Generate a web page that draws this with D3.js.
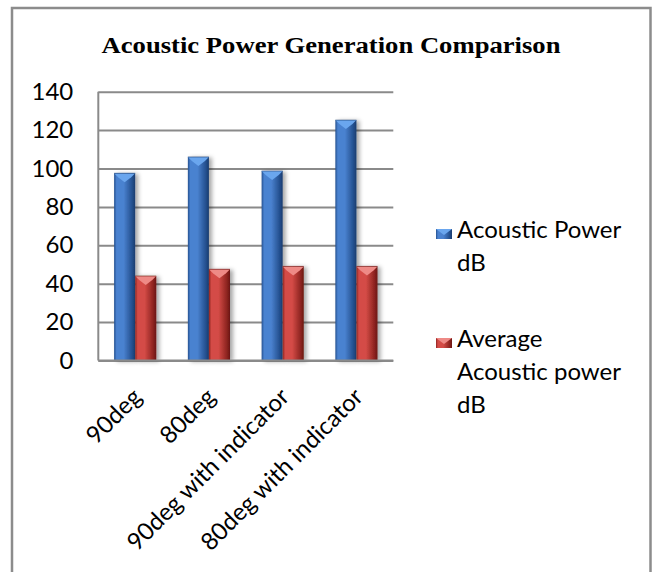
<!DOCTYPE html>
<html>
<head>
<meta charset="utf-8">
<script src="https://cdn.jsdelivr.net/npm/d3@7"></script>
<style>
  html, body { margin: 0; padding: 0; background: #fff; }
  svg { display: block; }
</style>
</head>
<body>
<svg id="chart" width="657" height="572"></svg>
<script>
// Chart data
const categories = ["90deg", "80deg", "90deg with indicator", "80deg with indicator"];
const seriesNames = ["Acoustic Power dB", "Average Acoustic power dB"];
const acousticPower = [97.5, 106, 98.7, 125.2];
const averageAcousticPower = [44, 47.5, 49, 49];
const yTicks = [0, 20, 40, 60, 80, 100, 120, 140];
const legendLines = [["Acoustic Power", "dB"], ["Average", "Acoustic power", "dB"]];

const svg = d3.select("#chart");
const plot = { left: 98.3, right: 393.3, top: 91.7, bottom: 360.5 };
const labelFont = "Lato, 'Open Sans', sans-serif";
const labelSize = 24;

const palettes = [
  { dark: "#24508f", mid: "#4a82d0", light: "#6aa6ee", edge: "#1b3c6e" },
  { dark: "#8e2420", mid: "#d44b46", light: "#ee8a86", edge: "#6a1614" }
];

const defs = svg.append("defs");
palettes.forEach((p, i) => {
  const g = defs.append("linearGradient").attr("id", "barGrad" + i)
    .attr("x1", "0").attr("x2", "1").attr("y1", "0").attr("y2", "0");
  g.append("stop").attr("offset", "0%").attr("stop-color", p.dark);
  g.append("stop").attr("offset", "12%").attr("stop-color", p.mid);
  g.append("stop").attr("offset", "45%").attr("stop-color", p.mid);
  g.append("stop").attr("offset", "85%").attr("stop-color", p.dark);
  g.append("stop").attr("offset", "100%").attr("stop-color", p.edge);
});
const shadow = defs.append("filter").attr("id", "barShadow")
  .attr("x", "-30%").attr("y", "-10%").attr("width", "170%").attr("height", "130%");
shadow.append("feDropShadow").attr("dx", 3).attr("dy", 1).attr("stdDeviation", 2)
  .attr("flood-color", "#000").attr("flood-opacity", 0.35);

// Outer frame
svg.append("rect").attr("x", 12).attr("y", 8).attr("width", 638.5).attr("height", 620)
  .attr("fill", "#fff").attr("stroke", "#8c8c8c").attr("stroke-width", 2.5);

// Title
svg.append("text").attr("x", 331).attr("y", 53).attr("text-anchor", "middle")
  .attr("font-family", "'Liberation Serif', 'Times New Roman', serif")
  .attr("font-weight", "bold").attr("font-size", 23).attr("fill", "#000")
  .attr("textLength", 459).attr("lengthAdjust", "spacingAndGlyphs")
  .text("Acoustic Power Generation Comparison");

// Scales
const x = d3.scaleBand().domain(categories).range([plot.left, plot.right])
  .paddingInner(0.4286).paddingOuter(0.2143);
const xs = d3.scaleBand().domain([0, 1]).range([0, x.bandwidth()]);
const y = d3.scaleLinear().domain([0, 140]).range([plot.bottom, plot.top]);

// Gridlines
const grid = svg.append("g").attr("transform", `translate(${plot.left},0)`)
  .call(d3.axisLeft(y).tickValues(yTicks).tickSize(-(plot.right - plot.left)).tickFormat(""));
grid.select(".domain").remove();
grid.selectAll(".tick line").attr("stroke", "#8a8a8a").attr("stroke-width", 2);

// Y axis line and labels
svg.append("line").attr("x1", plot.left).attr("x2", plot.left)
  .attr("y1", plot.top).attr("y2", plot.bottom).attr("stroke", "#8a8a8a").attr("stroke-width", 2);
const yAxis = svg.append("g").attr("transform", `translate(${plot.left},0)`)
  .call(d3.axisLeft(y).tickValues(yTicks).tickSize(0).tickPadding(25));
yAxis.select(".domain").remove();
yAxis.selectAll("text").attr("font-family", labelFont).attr("font-size", labelSize).attr("fill", "#000");

// Bars
const seriesData = [acousticPower, averageAcousticPower];
seriesData.forEach((vals, si) => {
  const p = palettes[si];
  const g = svg.append("g");
  const bars = g.selectAll("g.bar").data(vals).join("g").attr("class", "bar")
    .attr("filter", "url(#barShadow)");
  bars.append("rect")
    .attr("x", (d, i) => x(categories[i]) + xs(si))
    .attr("y", d => y(d))
    .attr("width", xs.bandwidth())
    .attr("height", d => y(0) - y(d))
    .attr("fill", `url(#barGrad${si})`);
  // bevelled top
  bars.append("path")
    .attr("d", (d, i) => {
      const x0 = x(categories[i]) + xs(si), w = xs.bandwidth(), t = y(d), b = 4;
      return `M${x0},${t} L${x0 + w},${t} L${x0 + w - b},${t + b} L${x0 + w / 2},${t + 9} L${x0 + b},${t + b} Z`;
    })
    .attr("fill", p.light);
  bars.append("path")
    .attr("d", (d, i) => {
      const x0 = x(categories[i]) + xs(si), w = xs.bandwidth(), t = y(d);
      return `M${x0},${t} L${x0 + w},${t}`;
    })
    .attr("stroke", p.edge).attr("stroke-width", 1).attr("stroke-opacity", 0.6);
});

// Bottom axis line
svg.append("line").attr("x1", plot.left).attr("x2", plot.right)
  .attr("y1", plot.bottom).attr("y2", plot.bottom).attr("stroke", "#8a8a8a").attr("stroke-width", 2);

// Category labels, rotated 45 degrees and ending under each group
svg.append("g").selectAll("text").data(categories).join("text")
  .attr("transform", d => `translate(${x(d) + x.bandwidth() / 2 - 4},${plot.bottom + 26}) rotate(-45)`)
  .attr("text-anchor", "end").attr("dy", "0.7em")
  .attr("font-family", labelFont).attr("font-size", labelSize).attr("fill", "#000")
  .text(d => d);

// Legend
const legendTop = [238, 347];
const legend = svg.append("g");
seriesNames.forEach((name, i) => {
  const p = palettes[i];
  const lg = legend.append("g");
  lg.append("rect").attr("x", 436).attr("y", legendTop[i] - 9).attr("width", 16).attr("height", 10)
    .attr("fill", `url(#barGrad${i})`);
  lg.append("path")
    .attr("d", `M436,${legendTop[i] - 9} L452,${legendTop[i] - 9} L444,${legendTop[i] - 3} Z`)
    .attr("fill", p.light);
  const t = lg.append("text").attr("font-family", labelFont).attr("font-size", labelSize).attr("fill", "#000");
  legendLines[i].forEach((line, k) => {
    t.append("tspan").attr("x", 457).attr("y", legendTop[i] + k * 33).text(line);
  });
});
</script>
</body>
</html>
